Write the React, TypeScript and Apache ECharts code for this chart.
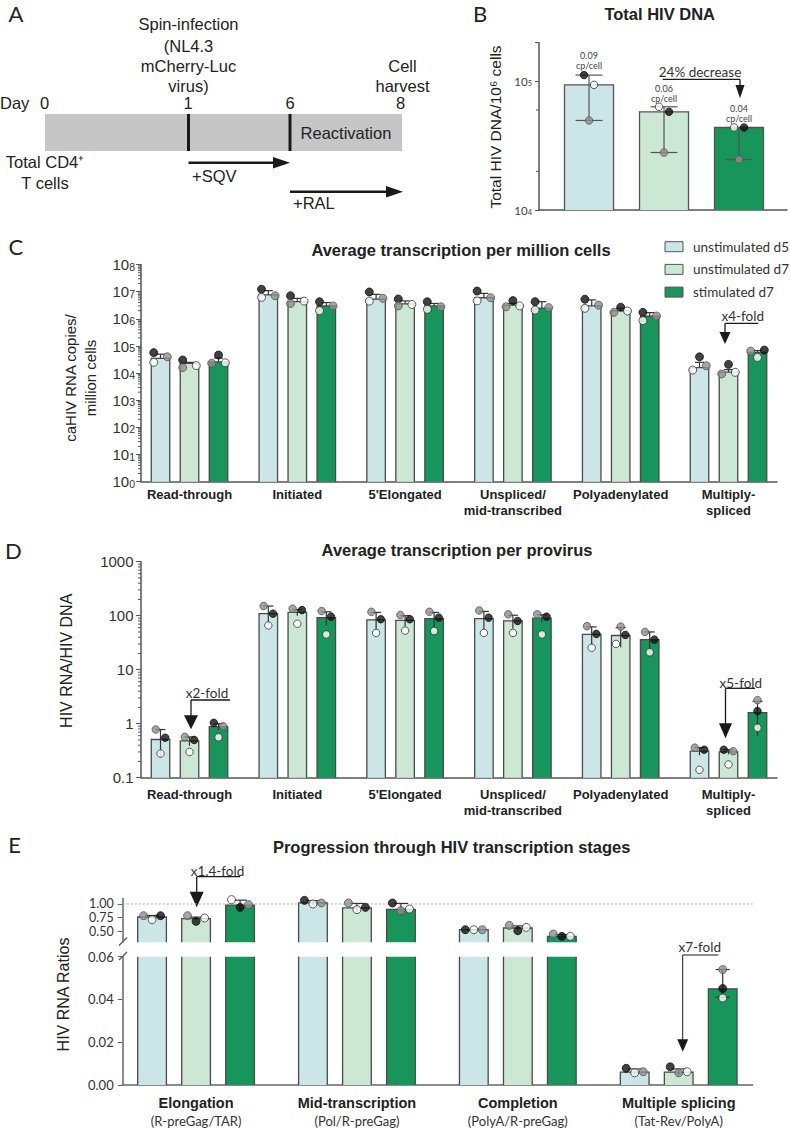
import React, { useEffect, useRef } from "react";
import * as echarts from "echarts";

const ARIAL = "'Liberation Sans', Arial, Helvetica, sans-serif";
const LATO = "Lato, 'Open Sans', sans-serif";

const CONDITIONS = ["unstimulated d5", "unstimulated d7", "stimulated d7"];
const COND_FILL = ["#cce6e7", "#cce7d4", "#17955a"];

// ---------- Panel B : Total HIV DNA ----------
const B_MEAN = [94000, 58000, 43800];
const B_ERR_HI = [112000, 63500, 43800];
const B_ERR_LO = [49700, 28000, 24700];
const B_BLACK = [112000, 58000, 43800];
const B_GRAY = [49700, 28000, 24700];
const B_WHITE = [94000, 63500, 43800];
const B_JIT_BLACK = [-1, 1, 1];
const B_JIT_GRAY = [0, 0, 0];
const B_JIT_WHITE = [1, -1, -1];
const B_COPIES_PER_CELL = ["0.09", "0.06", "0.04"];
const B_MINOR = [20000, 60000, 200000];

// ---------- Panels C, D : transcription stages ----------
const STAGES = ["Read-through", "Initiated", "5'Elongated", "Unspliced/\nmid-transcribed", "Polyadenylated", "Multiply-\nspliced"];

const C_MEAN = [[35000, 23000, 26000], [7.6e6, 4.3e6, 3.0e6], [5.3e6, 3.6e6, 3.0e6], [6.0e6, 3.2e6, 2.5e6], [3.0e6, 2.0e6, 1.25e6], [16000, 11000, 58000]];
const C_ERR_HI = [[50000, 25000, 36000], [1.1e7, 5.7e6, 4.0e6], [8.0e6, 4.6e6, 3.7e6], [8.7e6, 3.7e6, 4.3e6], [5.0e6, 2.45e6, 1.7e6], [25000, 13500, 68000]];
const C_BLACK = [[57000, 30500, 46500], [1.23e7, 7.1e6, 4.3e6], [9.8e6, 5.4e6, 4.3e6], [1.06e7, 4.7e6, 4.3e6], [5.3e6, 2.7e6, 1.74e6], [40000, 21000, 71000]];
const C_GRAY = [[40000, 16000, 23000], [7.1e6, 3.7e6, 3.0e6], [5.7e6, 3.0e6, 2.8e6], [6.0e6, 2.8e6, 2.6e6], [3.2e6, 1.74e6, 1.27e6], [18700, 9300, 65000]];
const C_WHITE = [[25000, 19000, 24000], [6.2e6, 4.5e6, 2.0e6], [4.5e6, 3.4e6, 2.25e6], [4.6e6, 3.0e6, 2.1e6], [2.45e6, 1.95e6, 8.6e5], [13000, 10700, 38000]];
const C_JIT_BLACK = [[-1, -1, 0], [-1, -1, -1], [-1, -1, -1], [-1, 0, -1], [-1, 0, -1], [0, 0, 1]];
const C_JIT_GRAY = [[1, -1, -1], [1, -1, 1], [1, -1, 1], [1, -1, 1], [1, -1, 1], [1, -1, -1]];
const C_JIT_WHITE = [[-1, 1, 1], [-1, 1, -1], [-1, 1, -1], [-1, 1, -1], [-1, 1, -1], [-1, 1, 0]];

const D_MEAN = [[0.51, 0.48, 0.88], [109, 115, 92], [84, 82, 88], [88, 80, 90], [45, 43, 36], [0.31, 0.30, 1.6]];
const D_ERR_HI = [[0.78, 0.57, 1.0], [151, 130, 118], [115, 100, 115], [120, 102, 104], [62, 60, 50], [0.36, 0.33, 2.6]];
const D_BLACK = [[0.55, 0.5, 1.04], [109, 127, 96], [86, 86, 92], [92, 80, 96], [46, 44, 36], [0.33, 0.33, 1.71]];
const D_GRAY = [[0.78, 0.57, 0.9], [151, 135, 122], [118, 103, 118], [125, 106, 106], [64, 63, 50], [0.36, 0.31, 2.73]];
const D_WHITE = [[0.28, 0.3, 0.56], [66, 71, 45], [48, 53, 52], [48, 48, 45], [25.5, 30, 21], [0.14, 0.176, 0.84]];
const D_JIT_BLACK = [[1, 1, -1], [1, 1, 1], [1, 1, 1], [1, 1, 1], [1, 1, 1], [1, -1, 0]];
const D_JIT_GRAY = [[-1, -1, 1], [-1, -1, -1], [-1, -1, -1], [-1, -1, -1], [-1, 0, -1], [-1, 1, 0]];
const D_JIT_WHITE = [[0, 0, 0], [0, 0, 0], [0, 0, 0], [0, 0, 0], [0, -1, 0], [0, 0, 0]];

// ---------- Panel E : ratios ----------
const E_STAGES = ["Elongation", "Mid-transcription", "Completion", "Multiple splicing"];
const E_RATIOS = ["(R-preGag/TAR)", "(Pol/R-preGag)", "(PolyA/R-preGag)", "(Tat-Rev/PolyA)"];
const E_MEAN = [[0.762, 0.731, 0.98], [1.02, 0.93, 0.9], [0.53, 0.561, 0.41], [0.006, 0.006, 0.045]];
const E_ERR_HI = [[0.79, 0.76, 1.07], [1.06, 1.01, 1.01], [0.53, 0.6, 0.44], [0.0075, 0.0075, 0.054]];
const E_ERR_LO = [[null, null, null], [null, null, null], [null, null, null], [null, null, 0.041]];
const E_BLACK = [[0.786, 0.682, 0.938], [1.066, 0.938, 1.018], [0.53, 0.512, 0.408], [0.0078, 0.0085, 0.0451]];
const E_GRAY = [[0.786, 0.786, 0.987], [1.018, 1.018, 0.877], [0.53, 0.609, 0.452], [0.0062, 0.0057, 0.054]];
const E_WHITE = [[0.713, 0.744, 1.079], [1.0, 0.896, 0.908], [0.53, 0.572, 0.408], [0.0057, 0.0062, 0.0407]];
const E_JIT_BLACK = [[1, 0, 0], [-1, 1, -1], [-1, 0, 0], [-1, -1, 0]];
const E_JIT_GRAY = [[-1, -1, 1], [1, -1, 0], [1, -1, -1], [1, 0, 0]];
const E_JIT_WHITE = [[0, 1, -1], [0, 0, 1], [0, 1, 1], [0, 1, 0]];
const E_UPPER_TICKS = [0.5, 0.75, 1.0];

const AX = "#555";
const DOT_STYLE = [
  { color: "#111", borderColor: "#111", borderWidth: 1 },
  { color: "#8e8e8e", borderColor: "#555", borderWidth: 1 },
  { color: "#fff", borderColor: "#333", borderWidth: 1 },
];

function groupedItems(mean: number[][], hi: number[][], lo: any[][] | null, black: number[][], gray: number[][], white: number[][], jb: number[][], jg: number[][], jw: number[][], step: number, symmetric: boolean) {
  const items: any[] = [];
  mean.forEach((row, g) =>
    row.forEach((m, c) => {
      const h = hi[g][c];
      const explicitLo = lo ? lo[g][c] : null;
      const l = explicitLo != null ? explicitLo : symmetric ? 2 * m - h : m;
      items.push({
        x: g + (c - 1) * step,
        cond: c,
        mean: m,
        hi: h,
        lo: l,
        capLow: explicitLo != null,
        dots: [
          { v: black[g][c], kind: 0, jit: jb[g][c] },
          { v: gray[g][c], kind: 1, jit: jg[g][c] },
          { v: white[g][c], kind: 2, jit: jw[g][c] },
        ],
      });
    })
  );
  return items;
}

function logMinor(lo: number, hi: number) {
  const out: number[] = [];
  for (let k = Math.floor(Math.log10(lo)); k <= Math.ceil(Math.log10(hi)); k++) {
    for (let m = 2; m <= 9; m++) {
      const v = m * Math.pow(10, k);
      if (v > lo && v < hi) out.push(v);
    }
  }
  return out;
}

function panelSeries(items: any[], gi: number, cfg: any) {
  const { yBase, yTop, barW, capW, jitPx, dotSize, errColor, barStroke } = cfg;
  const clampV = (v: number) => Math.min(Math.max(v, yBase), yTop);
  const out: any[] = [];
  out.push({
    type: "custom",
    xAxisIndex: gi,
    yAxisIndex: gi,
    z: 2,
    silent: true,
    clip: false,
    encode: { x: 0, y: 1 },
    data: items.map((it) => [it.x, clampV(it.mean)]),
    renderItem: (params: any, api: any) => {
      const it = items[params.dataIndex];
      if (it.mean <= yBase) return null;
      const cut = it.mean > yTop;
      const pt = api.coord([it.x, cut ? yTop : it.mean]);
      const pb = api.coord([it.x, yBase]);
      const x0 = pt[0] - barW / 2;
      const x1 = pt[0] + barW / 2;
      const st = { stroke: barStroke || "#4a4a4a", lineWidth: 1.3, fill: "none" };
      const children: any[] = [
        { type: "rect", shape: { x: x0, y: pt[1], width: barW, height: pb[1] - pt[1] }, style: { fill: COND_FILL[it.cond] } },
      ];
      if (cut) {
        children.push({ type: "line", shape: { x1: x0, y1: pt[1], x2: x0, y2: pb[1] }, style: st });
        children.push({ type: "line", shape: { x1: x1, y1: pt[1], x2: x1, y2: pb[1] }, style: st });
      } else {
        children.push({ type: "polyline", shape: { points: [[x0, pb[1]], [x0, pt[1]], [x1, pt[1]], [x1, pb[1]]] }, style: st });
      }
      return { type: "group", children };
    },
  });
  out.push({
    type: "custom",
    xAxisIndex: gi,
    yAxisIndex: gi,
    z: 3,
    silent: true,
    clip: false,
    encode: { x: 0, y: 1 },
    data: items.map((it) => [it.x, clampV(it.hi)]),
    renderItem: (params: any, api: any) => {
      const it = items[params.dataIndex];
      const hi = Math.min(it.hi, yTop);
      const lo = Math.max(it.lo, yBase);
      if (it.hi < yBase || it.lo > yTop) return null;
      const ph = api.coord([it.x, hi]);
      const pl = api.coord([it.x, lo]);
      const st = { stroke: errColor, lineWidth: 1.2 };
      const children: any[] = [{ type: "line", shape: { x1: ph[0], y1: pl[1], x2: ph[0], y2: ph[1] }, style: st }];
      if (it.hi <= yTop) children.push({ type: "line", shape: { x1: ph[0] - capW / 2, y1: ph[1], x2: ph[0] + capW / 2, y2: ph[1] }, style: st });
      if (it.capLow && it.lo >= yBase) children.push({ type: "line", shape: { x1: ph[0] - capW / 2, y1: pl[1], x2: ph[0] + capW / 2, y2: pl[1] }, style: st });
      return { type: "group", children };
    },
  });
  const dots: any[] = [];
  items.forEach((it) =>
    it.dots.forEach((d: any) => {
      if (d.v >= yBase && d.v <= yTop) {
        dots.push({ value: [it.x, d.v], symbolOffset: [d.jit * jitPx, 0], itemStyle: DOT_STYLE[d.kind] });
      }
    })
  );
  out.push({
    type: "scatter",
    xAxisIndex: gi,
    yAxisIndex: gi,
    z: 4,
    silent: true,
    symbol: "circle",
    symbolSize: dotSize,
    data: dots,
  });
  if (cfg.minor) {
    out.push({
      type: "custom",
      xAxisIndex: gi,
      yAxisIndex: gi,
      z: 5,
      silent: true,
      clip: false,
      encode: { x: 0, y: 1 },
      data: cfg.minor.map((v: number) => [cfg.xMin, v]),
      renderItem: (params: any, api: any) => {
        const p = api.coord([cfg.xMin, api.value(1)]);
        return { type: "line", shape: { x1: p[0] - 3, y1: p[1], x2: p[0], y2: p[1] }, style: { stroke: AX, lineWidth: 1 } };
      },
    });
  }
  return out;
}

const axisLine = { show: true, onZero: false, lineStyle: { color: AX, width: 1.5 } };

function txt(text: string, x: number, y: number, o: any = {}) {
  return {
    type: "text",
    x,
    y,
    rotation: o.rotation || 0,
    silent: true,
    style: {
      text,
      fill: o.color || "#222",
      fontSize: o.size || 16.5,
      fontFamily: o.family || ARIAL,
      fontWeight: o.weight || "normal",
      align: o.align || "center",
      verticalAlign: "middle",
      lineHeight: o.lh,
    },
  };
}
const ln = (x1: number, y1: number, x2: number, y2: number, lw = 1.3, color = "#1a1a1a") => ({
  type: "line",
  silent: true,
  shape: { x1, y1, x2, y2 },
  style: { stroke: color, lineWidth: lw },
});
const tri = (points: number[][], color = "#1a1a1a") => ({ type: "polygon", silent: true, shape: { points }, style: { fill: color } });

function foldNote(label: string, tx: number, ty: number, lineX1: number, lineY: number, ax: number, tip: number, hw: number, hh: number, lw = 1.3) {
  return [
    txt(label, tx, ty, { size: 13.5, family: LATO, color: "#333" }),
    ln(ax, lineY, lineX1, lineY, lw),
    ln(ax, lineY, ax, tip - hh + 1, lw),
    tri([[ax - hw / 2, tip - hh], [ax + hw / 2, tip - hh], [ax, tip]]),
  ];
}

function powLabel(baseSize: number, supSize: number, family: string, color: string) {
  return {
    formatter: (v: number) => {
      const e = Math.log10(v);
      if (Math.abs(e - Math.round(e)) > 1e-6) return "";
      return `{b|10}{s|${Math.round(e)}}`;
    },
    rich: {
      b: { fontSize: baseSize, fontFamily: family, color, verticalAlign: "middle" },
      s: { fontSize: supSize, fontFamily: family, color, verticalAlign: "bottom" },
    },
  };
}

function buildOption() {
  const bItems = B_MEAN.map((m, i) => ({
    x: i,
    cond: i,
    mean: m,
    hi: B_ERR_HI[i],
    lo: B_ERR_LO[i],
    capLow: true,
    dots: [
      { v: B_BLACK[i], kind: 0, jit: B_JIT_BLACK[i] },
      { v: B_GRAY[i], kind: 1, jit: B_JIT_GRAY[i] },
      { v: B_WHITE[i], kind: 2, jit: B_JIT_WHITE[i] },
    ],
  }));
  const cItems = groupedItems(C_MEAN, C_ERR_HI, null, C_BLACK, C_GRAY, C_WHITE, C_JIT_BLACK, C_JIT_GRAY, C_JIT_WHITE, 0.269, false);
  const dItems = groupedItems(D_MEAN, D_ERR_HI, null, D_BLACK, D_GRAY, D_WHITE, D_JIT_BLACK, D_JIT_GRAY, D_JIT_WHITE, 0.269, true);
  const eItems = groupedItems(E_MEAN, E_ERR_HI, E_ERR_LO, E_BLACK, E_GRAY, E_WHITE, E_JIT_BLACK, E_JIT_GRAY, E_JIT_WHITE, 0.2735, true);

  const gridDefs = [
    { left: 539, top: 42.7, width: 248, height: 167.3 },
    { left: 141, top: 264.6, width: 636, height: 217.1 },
    { left: 141, top: 561.7, width: 636, height: 216 },
    { left: 122.7, top: 898.5, width: 630, height: 43.8 },
    { left: 122.7, top: 956.7, width: 630, height: 128.3 },
  ];
  const grid = gridDefs.map((g) => ({ ...g, containLabel: false, outerBoundsMode: "none" }));

  const stageLabel = (margin: number) => ({
    customValues: [0, 1, 2, 3, 4, 5],
    formatter: (v: number) => STAGES[Math.round(v)],
    fontFamily: ARIAL,
    fontWeight: "bold",
    fontSize: 13,
    lineHeight: 15.5,
    color: "#222",
    margin,
  });

  const xAxis: any[] = [
    { gridIndex: 0, type: "value", min: -0.667, max: 2.64, axisLine, axisTick: { show: false }, axisLabel: { show: false }, splitLine: { show: false } },
    { gridIndex: 1, type: "value", min: -0.45, max: 5.45, axisLine, axisTick: { show: false }, axisLabel: stageLabel(5.5), splitLine: { show: false } },
    { gridIndex: 2, type: "value", min: -0.45, max: 5.45, axisLine, axisTick: { show: false }, axisLabel: stageLabel(9.5), splitLine: { show: false } },
    { gridIndex: 3, type: "value", min: -0.456, max: 3.46, show: false, splitLine: { show: false } },
    {
      gridIndex: 4,
      type: "value",
      min: -0.456,
      max: 3.46,
      axisLine: { show: true, onZero: false, lineStyle: { color: "#666", width: 1.5 } },
      axisTick: { show: false },
      splitLine: { show: false },
      axisLabel: {
        customValues: [0, 1, 2, 3],
        formatter: (v: number) => `{b|${E_STAGES[Math.round(v)]}}\n{n|${E_RATIOS[Math.round(v)]}}`,
        margin: 9.5,
        fontSize: 14,
        rich: {
          b: { fontFamily: ARIAL, fontWeight: "bold", fontSize: 14.5, lineHeight: 17.5, color: "#222" },
          n: { fontFamily: LATO, fontSize: 13, lineHeight: 17.5, color: "#333" },
        },
      },
    },
  ];

  const yAxis: any[] = [
    {
      gridIndex: 0,
      type: "log",
      logBase: 10,
      min: 1e4,
      max: 2e5,
      axisLine,
      axisTick: { show: true, length: 4, lineStyle: { color: AX } },
      splitLine: { show: false },
      axisLabel: { ...powLabel(11.5, 7.5, LATO, "#444"), margin: 7 },
    },
    {
      gridIndex: 1,
      type: "log",
      logBase: 10,
      min: 1,
      max: 1e8,
      axisLine,
      axisTick: { show: true, length: 5, lineStyle: { color: AX } },
      splitLine: { show: false },
      axisLabel: { ...powLabel(15, 10.5, ARIAL, "#333"), margin: 6 },
    },
    {
      gridIndex: 2,
      type: "log",
      logBase: 10,
      min: 0.1,
      max: 1000,
      axisLine,
      axisTick: { show: true, length: 5, lineStyle: { color: AX } },
      splitLine: { show: false },
      axisLabel: {
        formatter: (v: number) => (v >= 1 ? String(Math.round(v)) : String(Number(v.toPrecision(1)))),
        fontFamily: ARIAL,
        fontSize: 15,
        color: "#333",
        margin: 7.5,
      },
    },
    {
      gridIndex: 3,
      type: "value",
      min: 0.3,
      max: 1.1,
      axisLine: { show: true, onZero: false, lineStyle: { color: "#666", width: 1.5 } },
      axisTick: { show: true, length: 5, customValues: E_UPPER_TICKS, lineStyle: { color: "#666" } },
      splitLine: { show: false },
      axisLabel: { customValues: E_UPPER_TICKS, formatter: (v: number) => v.toFixed(2), fontFamily: LATO, fontSize: 12.5, lineHeight: 12, color: "#333", margin: 9 },
    },
    {
      gridIndex: 4,
      type: "value",
      min: 0,
      max: 0.06,
      interval: 0.02,
      axisLine: { show: true, onZero: false, lineStyle: { color: "#666", width: 1.5 } },
      axisTick: { show: true, length: 5, lineStyle: { color: "#666" } },
      splitLine: { show: false },
      axisLabel: { formatter: (v: number) => v.toFixed(2), fontFamily: LATO, fontSize: 13, color: "#333", margin: 9 },
    },
  ];

  const series: any[] = [
    ...panelSeries(bItems, 0, { yBase: 1e4, yTop: 2e5, barW: 49, capW: 27, jitPx: 5, dotSize: 7.5, errColor: "#555", barStroke: "#555", minor: B_MINOR, xMin: -0.667 }),
    ...panelSeries(cItems, 1, { yBase: 1, yTop: 1e8, barW: 18.5, capW: 9, jitPx: 6.8, dotSize: 8, errColor: "#333", minor: logMinor(1, 1e8), xMin: -0.45 }),
    ...panelSeries(dItems, 2, { yBase: 0.1, yTop: 1000, barW: 18.5, capW: 10, jitPx: 4.7, dotSize: 7.5, errColor: "#333", minor: logMinor(0.1, 1000), xMin: -0.45 }),
    {
      type: "custom",
      xAxisIndex: 3,
      yAxisIndex: 3,
      z: 1,
      silent: true,
      clip: false,
      encode: { x: 0, y: 1 },
      data: [[-0.456, 1]],
      renderItem: (params: any, api: any) => {
        const a = api.coord([-0.456, 1]);
        const b = api.coord([3.46, 1]);
        return { type: "line", shape: { x1: a[0], y1: a[1], x2: b[0], y2: b[1] }, style: { stroke: "#aaa", lineWidth: 1, lineDash: [2, 2] } };
      },
    },
    ...panelSeries(eItems, 3, { yBase: 0.3, yTop: 1.1, barW: 28.7, capW: 14, jitPx: 8.5, dotSize: 8, errColor: "#333" }),
    ...panelSeries(eItems, 4, { yBase: 0, yTop: 0.06, barW: 28.7, capW: 14, jitPx: 8.5, dotSize: 8, errColor: "#333" }),
  ];

  const LETTER = { size: 22, family: LATO, color: "#222" };
  const TITLE = { weight: "bold", size: 16.5 };
  const elements: any[] = [
    // ---------- Panel A ----------
    txt("A", 16, 13.5, LETTER),
    txt("Spin-infection", 188.5, 24),
    txt("(NL4.3", 188.5, 45.7),
    txt("mCherry-Luc", 188.5, 65.7),
    txt("virus)", 188.5, 85.7),
    txt("Cell", 402.5, 65.7),
    txt("harvest", 402.5, 85.7),
    txt("Day", 0, 102.7, { align: "left" }),
    txt("0", 44.5, 102.7),
    txt("1", 188, 102.7),
    txt("6", 290, 102.7),
    txt("8", 400.5, 102.7),
    { type: "rect", silent: true, shape: { x: 45, y: 114, width: 357, height: 37 }, style: { fill: "#c6c6c6" } },
    ln(188.5, 114, 188.5, 151, 3),
    ln(290, 114, 290, 151, 3),
    txt("Reactivation", 346, 133),
    txt("Total CD4⁺", 45, 162),
    txt("T cells", 45, 182.7),
    ln(188.5, 162.7, 275, 162.7, 2.5),
    tri([[273, 157], [290, 162.7], [273, 168.4]]),
    txt("+SQV", 192, 175.7, { align: "left" }),
    ln(290, 191.7, 388, 191.7, 2.5),
    tri([[386, 186], [403, 191.7], [386, 197.4]]),
    txt("+RAL", 293, 202.5, { align: "left" }),

    // ---------- Panel B ----------
    txt("B", 480, 13, LETTER),
    txt("Total HIV DNA", 659.7, 14.3, TITLE),
    txt("Total HIV DNA/10⁶ cells", 495, 127, { rotation: Math.PI / 2, size: 15.5 }),
    txt(B_COPIES_PER_CELL[0] + "\ncp/cell", 589, 60, { size: 9, lh: 10, family: LATO, color: "#444" }),
    txt(B_COPIES_PER_CELL[1] + "\ncp/cell", 664, 93, { size: 9, lh: 10, family: LATO, color: "#444" }),
    txt(B_COPIES_PER_CELL[2] + "\ncp/cell", 739, 113.4, { size: 9, lh: 10, family: LATO, color: "#444" }),
    txt("24% decrease", 700, 71.7, { size: 13.5, family: LATO, color: "#333" }),
    ln(662.7, 79.3, 740, 79.3, 1.3),
    ln(740, 79.3, 740, 86, 1.3),
    tri([[735.5, 85], [744.5, 85], [740, 98.3]]),

    // ---------- Panel C ----------
    txt("C", 15.8, 246.7, LETTER),
    txt("Average transcription per million cells", 461, 250, TITLE),
    txt("caHIV RNA copies/\nmillion cells", 80, 378, { rotation: Math.PI / 2, size: 15, lh: 20 }),
    ...CONDITIONS.flatMap((c, i) => [
      { type: "rect", silent: true, shape: { x: 665, y: 241.7 + i * 22.7, width: 18, height: 10 }, style: { fill: COND_FILL[i], stroke: "#555", lineWidth: 1 } },
      txt(c, 693, 246.7 + i * 22.7, { align: "left", size: 13.5, family: LATO, color: "#333" }),
    ]),
    ...foldNote("x4-fold", 742.7, 316, 758.3, 323.3, 725, 344, 11, 12),

    // ---------- Panel D ----------
    txt("D", 13.3, 550, LETTER),
    txt("Average transcription per provirus", 457, 550, TITLE),
    txt("HIV RNA/HIV DNA", 66.7, 660.8, { rotation: Math.PI / 2, size: 16 }),
    ...foldNote("x2-fold", 207, 692.7, 230, 700, 191, 729.3, 14, 14),
    ...foldNote("x5-fold", 740.8, 682.7, 755, 688.3, 725.5, 738.3, 13, 15),

    // ---------- Panel E ----------
    txt("E", 14.7, 844.7, LETTER),
    txt("Progression through HIV transcription stages", 451.7, 847.3, TITLE),
    txt("HIV RNA Ratios", 63.3, 994.5, { rotation: Math.PI / 2, size: 16 }),
    ...foldNote("x1.4-fold", 217.5, 870.7, 240, 876.7, 196.7, 907.3, 14, 15.6),
    ...foldNote("x7-fold", 699.7, 946.7, 718.3, 955, 682.7, 1051.7, 11, 12.4, 1),
    ln(119, 945.5, 127, 937.5, 1.2, "#555"),
    ln(119, 960, 127, 952, 1.2, "#555"),
  ];

  return {
    animation: false,
    backgroundColor: "#fff",
    grid,
    xAxis,
    yAxis,
    series,
    graphic: { elements },
  };
}

export default function App() {
  const ref = useRef<HTMLDivElement>(null);
  useEffect(() => {
    document.body.style.margin = "0";
    const chart = echarts.init(ref.current as HTMLDivElement, null, { renderer: "svg" });
    chart.setOption(buildOption() as any);
    return () => chart.dispose();
  }, []);
  return <div ref={ref} style={{ width: 790, height: 1129, background: "#fff" }} />;
}
